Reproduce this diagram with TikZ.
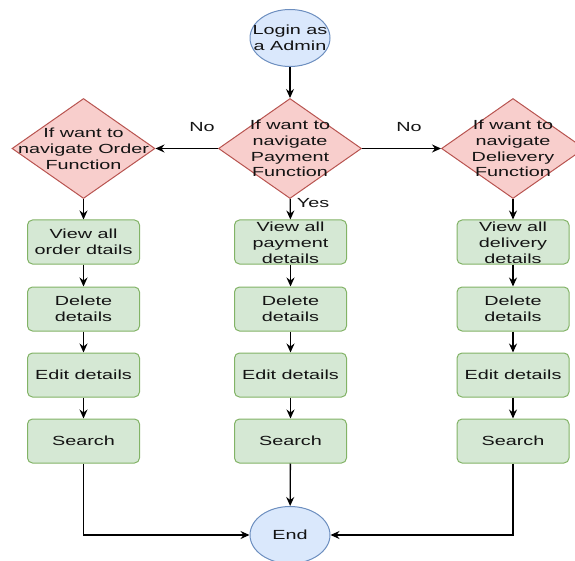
\documentclass[tikz,border=0pt]{standalone}
\usepackage{fontspec}
\setmainfont[FakeStretch=1.5]{Liberation Sans}
\usetikzlibrary{shapes.geometric,arrows.meta}
\definecolor{bluef}{HTML}{DAE8FC}\definecolor{blued}{HTML}{6C8EBF}
\definecolor{redf}{HTML}{F8CECC}\definecolor{redd}{HTML}{B85450}
\definecolor{greenf}{HTML}{D5E8D4}\definecolor{greend}{HTML}{82B366}
\definecolor{txtc}{HTML}{141414}
\tikzset{
  x=1pt, y=-1pt,
  oval/.style={ellipse, draw=blued, fill=bluef, line width=1pt, minimum width=80pt, minimum height=57pt, inner sep=0pt},
  dia/.style={diamond, draw=redd, fill=redf, line width=1pt, minimum width=143pt, minimum height=100pt, inner sep=0pt, shape aspect=1.43},
  box/.style={rectangle, rounded corners=5pt, draw=greend, fill=greenf, line width=1pt, minimum width=112pt, minimum height=44pt, inner sep=0pt},
  txt/.style={align=center, text=txtc, font=\fontsize{13.2}{15.8}\selectfont, inner sep=0pt},
  lbl/.style={text=txtc, font=\fontsize{13.2}{15.8}\selectfont, inner sep=0pt},
  arr/.style={-{Stealth[length=9pt,width=8pt,inset=3pt]}, line width=1.3pt, black},
}
\begin{document}
\begin{tikzpicture}
\useasboundingbox (0,0) rectangle (575,561);
\begin{scope}
\clip (0,0) rectangle (575,561);
% start / end
\node[oval] (start) at (290,38) {};
\node[txt] (startt) at (start) {Login as\\a Admin};
\node[oval] (endn) at (290,535) {};
\node[txt] (endt) at (endn) {End};
% diamonds
\node[dia] (dO) at (83.5,148.5) {};
\node[txt] (dOt) at (dO) {If want to\\navigate Order\\Function};
\node[dia] (dP) at (290,148.5) {};
\node[txt] (dPt) at (dP) {If want to\\navigate\\Payment\\Function};
\node[dia] (dD) at (513,148.5) {};
\node[txt] (dDt) at (dD) {If want to\\navigate\\Delievery\\Function};
% boxes
\foreach \c/\x in {O/83.5,P/290.5,D/513}{
  \node[box] (v\c) at (\x,242) {};
  \node[box] (del\c) at (\x,309) {};
  \node[box] (ed\c) at (\x,375) {};
  \node[box] (s\c) at (\x,441) {};
  \node[txt] (del\c t) at (del\c) {Delete\\details};
  \node[txt] (ed\c t) at (ed\c) {Edit details};
  \node[txt] (s\c t) at (s\c) {Search};
}
\node[txt] (vOt) at (vO) {View all\\order dtails};
\node[txt] (vPt) at ([yshift=-0.5pt]vP) {View all\\payment\\details};
\node[txt] (vDt) at ([yshift=-0.5pt]vD) {View all\\delivery\\details};
% connectors
\draw[arr] (start) -- (dP);
\draw[arr] (dP) -- (dO);
\draw[arr] (dP) -- (dD);
\foreach \c in {O,P,D}{
  \draw[arr] (d\c) -- (v\c);
  \draw[arr] (v\c) -- (del\c);
  \draw[arr] (del\c) -- (ed\c);
  \draw[arr] (ed\c) -- (s\c);
}
\draw[arr] (sP) -- (endn);
\draw[arr] (sO) |- (endn);
\draw[arr] (sD) |- (endn);
% labels
\node[lbl] (no1) at (202,127) {No};
\node[lbl] (no2) at (409,127) {No};
\node[lbl] (yes) at (313,203) {Yes};
\end{scope}
\end{tikzpicture}
\end{document}
